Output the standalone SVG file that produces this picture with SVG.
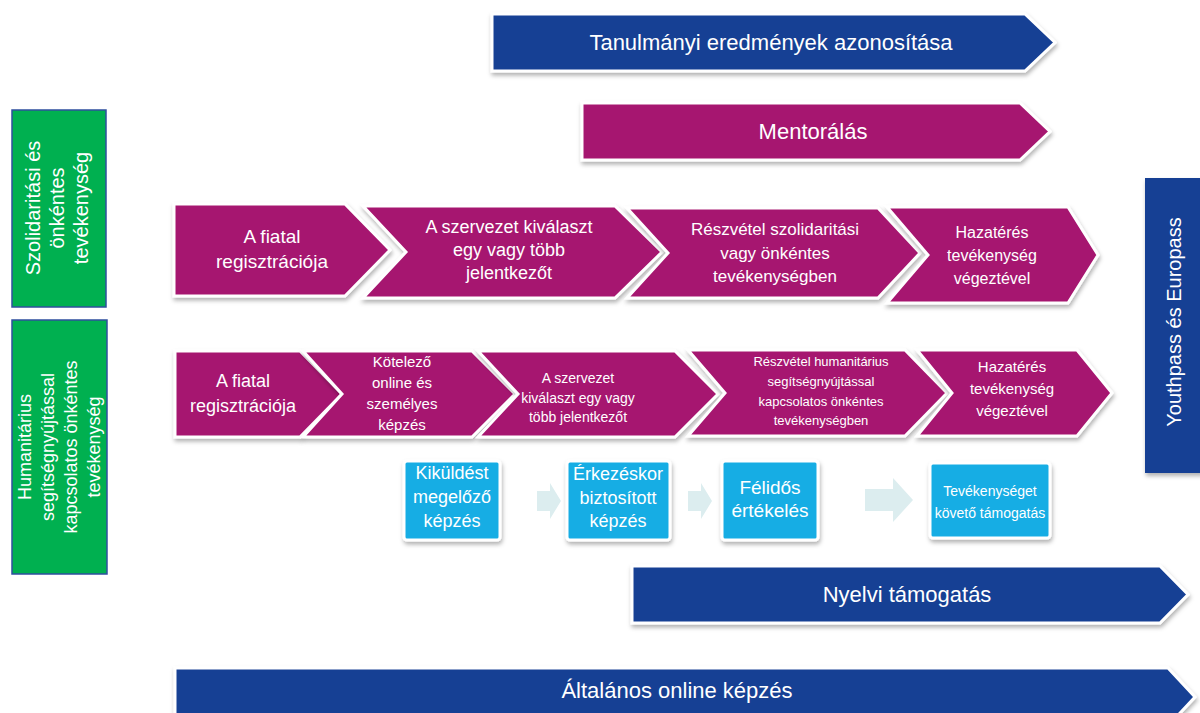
<svg xmlns="http://www.w3.org/2000/svg" width="1200" height="713" viewBox="0 0 1200 713">
<defs>
<filter id="sh" x="-10%" y="-20%" width="120%" height="150%">
<feDropShadow dx="1" dy="3" stdDeviation="2" flood-color="#000" flood-opacity="0.3"/>
</filter>
</defs>
<style>
text{font-family:"Liberation Sans",Arial,sans-serif;fill:#fff;text-anchor:middle}
.mag{fill:#A6176F;stroke:#fff;stroke-width:3;stroke-linejoin:miter;filter:url(#sh)}
.blu{fill:#163F94;stroke:#fff;stroke-width:3;filter:url(#sh)}
.grn{fill:#00B050;stroke:#2F4F9F;stroke-width:1.5}
.lb{fill:#17ADE4;stroke:#fff;stroke-width:3;filter:url(#sh)}
.ar{fill:#DCEDEF}
.t22{font-size:22px}
.t20{font-size:20px}
.t19{font-size:19px}
.t18{font-size:18px}
.t17{font-size:17px}
.t15{font-size:15px}
.t16{font-size:16px}
.t14{font-size:14px}
.t13{font-size:13px}
</style>

<g id="banner-tanulmanyi">
<path class="blu" d="M492,14 L1025,14 L1055,42.5 L1025,71 L492,71 Z"/>
<text class="t22" x="771" y="50">Tanulmányi eredmények azonosítása</text>
</g>
<g id="banner-mentoralas">
<path class="mag" d="M582,103 L1020,103 L1050,131.5 L1020,160 L582,160 Z"/>
<text class="t22" x="813" y="139">Mentorálás</text>
</g>

<g id="side-szolidaritasi">
<rect class="grn" x="12" y="110" width="94" height="197"/>
<g transform="translate(59,208) rotate(-90)">
<text class="t20" x="0" y="-19">Szolidaritási és</text>
<text class="t20" x="0" y="5">önkéntes</text>
<text class="t20" x="0" y="29">tevékenység</text>
</g>
</g>
<g id="side-humanitarius">
<rect class="grn" x="12" y="320" width="95" height="254"/>
<g transform="translate(59,447) rotate(-90)">
<text class="t18" x="0" y="-28">Humanitárius</text>
<text class="t18" x="0" y="-5">segítségnyújtással</text>
<text class="t18" x="0" y="18">kapcsolatos önkéntes</text>
<text class="t18" x="0" y="41">tevékenység</text>
</g>
</g>

<g id="side-youthpass">
<rect x="1145" y="178" width="58" height="295" fill="#163F94" filter="url(#sh)"/>
<g transform="translate(1174,322) rotate(-90)">
<text class="t20" x="0" y="7">Youthpass és Europass</text>
</g>
</g>

<g id="r1-c1">
<path class="mag" d="M174,204 L345,204 L390,250 L345,296 L174,296 Z"/>
<text class="t19" x="272" y="243">A fiatal</text>
<text class="t19" x="272" y="268">regisztrációja</text>
</g>
<g id="r1-c2">
<path class="mag" d="M363,206 L615,206 L662,252 L615,298 L363,298 L406,252 Z"/>
<text class="t18" x="509" y="233">A szervezet kiválaszt</text>
<text class="t18" x="509" y="256">egy vagy több</text>
<text class="t18" x="509" y="279">jelentkezőt</text>
</g>
<g id="r1-c3">
<path class="mag" d="M627,208 L878,208 L920,253 L878,298 L627,298 L668,253 Z"/>
<text class="t17" x="775" y="235">Részvétel szolidaritási</text>
<text class="t17" x="775" y="259">vagy önkéntes</text>
<text class="t17" x="775" y="282">tevékenységben</text>
</g>
<g id="r1-c4">
<path class="mag" d="M887,207 L1068,207 L1098,255 L1068,303 L887,303 L928,255 Z"/>
<text class="t16" x="992" y="238">Hazatérés</text>
<text class="t16" x="992" y="261">tevékenység</text>
<text class="t16" x="992" y="284">végeztével</text>
</g>

<g id="r2-c1">
<path class="mag" d="M175,351 L300,351 L342,394 L300,437 L175,437 Z"/>
<text class="t18" x="243" y="387">A fiatal</text>
<text class="t18" x="243" y="412">regisztrációja</text>
</g>
<g id="r2-c2">
<path class="mag" d="M303,351 L472,351 L515,394 L472,437 L303,437 L342,394 Z"/>
<text class="t15" x="402" y="367">Kötelező</text>
<text class="t15" x="402" y="388">online és</text>
<text class="t15" x="402" y="409">személyes</text>
<text class="t15" x="402" y="430">képzés</text>
</g>
<g id="r2-c3">
<path class="mag" d="M478,351 L675,351 L718,394 L675,437 L478,437 L518,394 Z"/>
<text class="t14" x="578" y="383">A szervezet</text>
<text class="t14" x="578" y="403">kiválaszt egy vagy</text>
<text class="t14" x="578" y="422">több jelentkezőt</text>
</g>
<g id="r2-c4">
<path class="mag" d="M688,350 L905,350 L947,393 L905,436 L688,436 L725,393 Z"/>
<text class="t13" x="821" y="366">Részvétel humanitárius</text>
<text class="t13" x="821" y="386">segítségnyújtással</text>
<text class="t13" x="821" y="406">kapcsolatos önkéntes</text>
<text class="t13" x="821" y="425">tevékenységben</text>
</g>
<g id="r2-c5">
<path class="mag" d="M917,350 L1077,350 L1112,393 L1077,436 L917,436 L952,393 Z"/>
<text class="t15" x="1012" y="372">Hazatérés</text>
<text class="t15" x="1012" y="394">tevékenység</text>
<text class="t15" x="1012" y="416">végeztével</text>
</g>

<g id="connectors">
<path class="ar" d="M537,491 L550,491 L550,483 L561,501 L550,519 L550,511 L537,511 Z"/>
<path class="ar" d="M688,491 L701,491 L701,483 L712,501 L701,519 L701,511 L688,511 Z"/>
<path class="ar" d="M865,489 L893,489 L893,478 L913,500 L893,522 L893,511 L865,511 Z"/>
</g>

<g id="lb-kikuldest">
<rect class="lb" x="404" y="461" width="96" height="79" rx="3"/>
<text class="t18" x="452" y="479">Kiküldést</text>
<text class="t18" x="452" y="503">megelőző</text>
<text class="t18" x="452" y="527">képzés</text>
</g>
<g id="lb-erkezeskor">
<rect class="lb" x="567" y="461" width="103" height="79" rx="3"/>
<text class="t18" x="618" y="480">Érkezéskor</text>
<text class="t18" x="618" y="504">biztosított</text>
<text class="t18" x="618" y="527">képzés</text>
</g>
<g id="lb-felidos">
<rect class="lb" x="722" y="461" width="96" height="79" rx="3"/>
<text class="t19" x="770" y="494">Félidős</text>
<text class="t19" x="770" y="517">értékelés</text>
</g>
<g id="lb-tevekenyseget">
<rect class="lb" x="930" y="463" width="120" height="75" rx="3"/>
<text class="t14" x="990" y="496">Tevékenységet</text>
<text class="t14" x="990" y="518">követő támogatás</text>
</g>

<g id="banner-nyelvi">
<path class="blu" d="M632,566 L1160,566 L1188,594.5 L1160,623 L632,623 Z"/>
<text class="t22" x="907" y="602">Nyelvi támogatás</text>
</g>
<g id="banner-altalanos">
<path class="blu" d="M175,668 L1168,668 L1195,697 L1168,726 L175,726 Z"/>
<text class="t22" x="677" y="698">Általános online képzés</text>
</g>
</svg>
